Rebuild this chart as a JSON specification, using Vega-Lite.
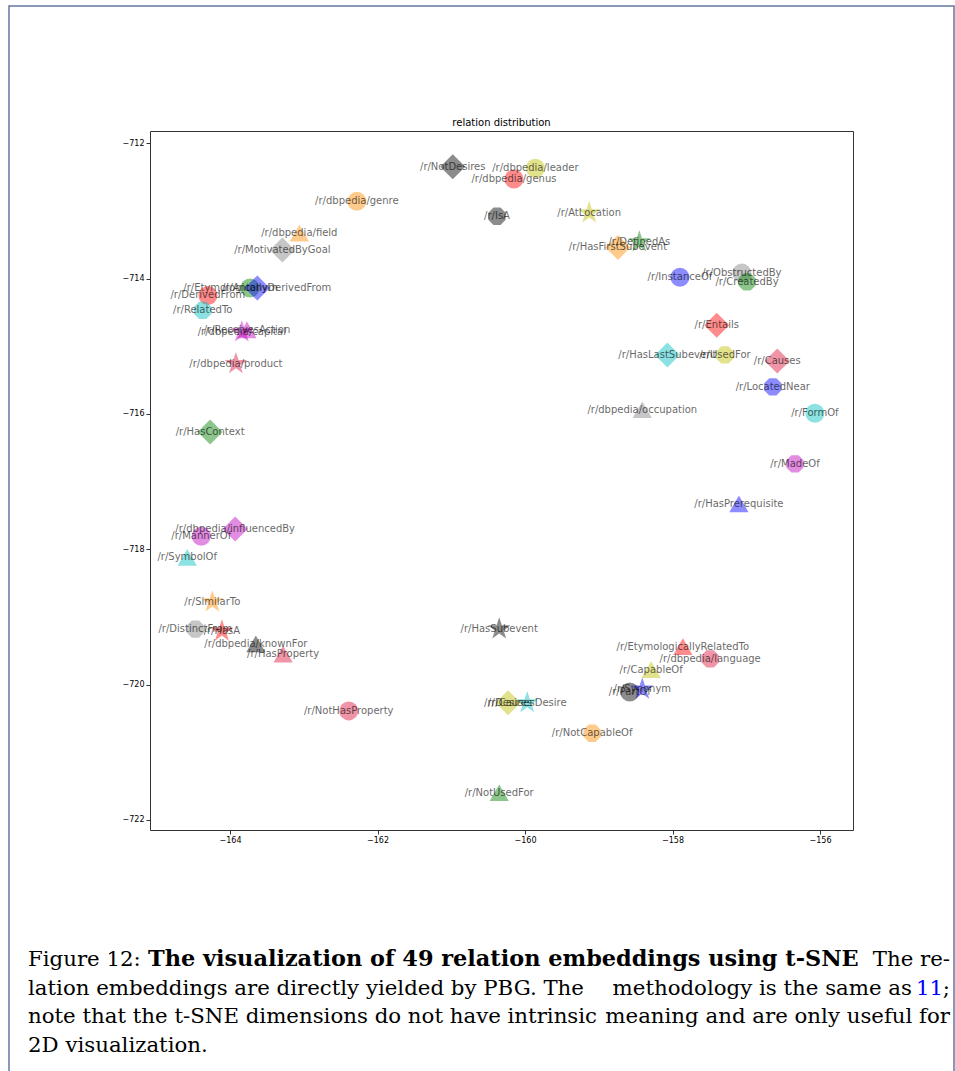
{
  "$schema": "https://vega.github.io/schema/vega-lite/v6.json",
  "width": 703,
  "height": 699,
  "autosize": {"type": "none"},
  "padding": {"left": 150, "top": 131, "right": 102, "bottom": 241},
  "background": "white",
  "config": {
    "font": "DejaVu Sans",
    "view": {"stroke": "#333333", "strokeWidth": 1},
    "axis": {"grid": false, "domain": false, "tickColor": "#333333", "tickSize": 4, "labelFontSize": 8, "labelColor": "#000000", "labelPadding": 2, "labelFont": "DejaVu Sans", "title": null},
    "text": {"font": "DejaVu Serif", "fontSize": 21.3, "fill": "#000000", "baseline": "alphabetic"}
  },
  "datasets": {
    "points": [
      {"name": "/r/NotDesires", "x": -160.98, "y": -712.35, "marker": "diamond", "group": "black"},
      {"name": "/r/dbpedia/leader", "x": -159.86, "y": -712.37, "marker": "circle", "group": "yellow"},
      {"name": "/r/dbpedia/genus", "x": -160.15, "y": -712.53, "marker": "circle", "group": "red"},
      {"name": "/r/dbpedia/genre", "x": -162.28, "y": -712.86, "marker": "circle", "group": "orange"},
      {"name": "/r/IsA", "x": -160.38, "y": -713.08, "marker": "octagon", "group": "black"},
      {"name": "/r/AtLocation", "x": -159.13, "y": -713.03, "marker": "star", "group": "yellow"},
      {"name": "/r/DefinedAs", "x": -158.45, "y": -713.46, "marker": "star", "group": "green"},
      {"name": "/r/HasFirstSubevent", "x": -158.74, "y": -713.54, "marker": "diamond", "group": "orange"},
      {"name": "/r/dbpedia/field", "x": -163.06, "y": -713.33, "marker": "triangle", "group": "orange"},
      {"name": "/r/MotivatedByGoal", "x": -163.29, "y": -713.58, "marker": "diamond", "group": "grey"},
      {"name": "/r/InstanceOf", "x": -157.90, "y": -713.98, "marker": "circle", "group": "blue"},
      {"name": "/r/ObstructedBy", "x": -157.06, "y": -713.92, "marker": "circle", "group": "grey"},
      {"name": "/r/CreatedBy", "x": -156.99, "y": -714.05, "marker": "octagon", "group": "green"},
      {"name": "/r/EtymologicallyDerivedFrom", "x": -163.63, "y": -714.14, "marker": "diamond", "group": "blue"},
      {"name": "/r/Antonym", "x": -163.73, "y": -714.14, "marker": "circle", "group": "green"},
      {"name": "/r/DerivedFrom", "x": -164.30, "y": -714.25, "marker": "circle", "group": "red"},
      {"name": "/r/RelatedTo", "x": -164.37, "y": -714.47, "marker": "octagon", "group": "cyan"},
      {"name": "/r/ReceivesAction", "x": -163.77, "y": -714.76, "marker": "triangle", "group": "magenta"},
      {"name": "/r/dbpedia/capital", "x": -163.84, "y": -714.79, "marker": "star", "group": "magenta"},
      {"name": "/r/Entails", "x": -157.40, "y": -714.69, "marker": "diamond", "group": "red"},
      {"name": "/r/HasLastSubevent", "x": -158.07, "y": -715.13, "marker": "diamond", "group": "cyan"},
      {"name": "/r/UsedFor", "x": -157.29, "y": -715.13, "marker": "octagon", "group": "yellow"},
      {"name": "/r/Causes", "x": -156.58, "y": -715.22, "marker": "diamond", "group": "crimson"},
      {"name": "/r/dbpedia/product", "x": -163.92, "y": -715.26, "marker": "star", "group": "crimson"},
      {"name": "/r/LocatedNear", "x": -156.64, "y": -715.60, "marker": "octagon", "group": "blue"},
      {"name": "/r/dbpedia/occupation", "x": -158.41, "y": -715.94, "marker": "triangle", "group": "grey"},
      {"name": "/r/FormOf", "x": -156.07, "y": -715.99, "marker": "circle", "group": "cyan"},
      {"name": "/r/HasContext", "x": -164.27, "y": -716.27, "marker": "diamond", "group": "green"},
      {"name": "/r/MadeOf", "x": -156.34, "y": -716.74, "marker": "octagon", "group": "magenta"},
      {"name": "/r/HasPrerequisite", "x": -157.10, "y": -717.33, "marker": "triangle", "group": "blue"},
      {"name": "/r/dbpedia/influencedBy", "x": -163.93, "y": -717.70, "marker": "diamond", "group": "magenta"},
      {"name": "/r/MannerOf", "x": -164.39, "y": -717.81, "marker": "circle", "group": "magenta"},
      {"name": "/r/SymbolOf", "x": -164.58, "y": -718.12, "marker": "triangle", "group": "cyan"},
      {"name": "/r/SimilarTo", "x": -164.24, "y": -718.78, "marker": "star", "group": "orange"},
      {"name": "/r/DistinctFrom", "x": -164.47, "y": -719.18, "marker": "octagon", "group": "grey"},
      {"name": "/r/HasA", "x": -164.11, "y": -719.21, "marker": "star", "group": "red"},
      {"name": "/r/dbpedia/knownFor", "x": -163.65, "y": -719.40, "marker": "triangle", "group": "black"},
      {"name": "/r/HasProperty", "x": -163.28, "y": -719.55, "marker": "triangle", "group": "crimson"},
      {"name": "/r/HasSubevent", "x": -160.35, "y": -719.18, "marker": "star", "group": "black"},
      {"name": "/r/EtymologicallyRelatedTo", "x": -157.86, "y": -719.44, "marker": "triangle", "group": "red"},
      {"name": "/r/dbpedia/language", "x": -157.49, "y": -719.62, "marker": "octagon", "group": "crimson"},
      {"name": "/r/CapableOf", "x": -158.29, "y": -719.78, "marker": "triangle", "group": "yellow"},
      {"name": "/r/PartOf", "x": -158.58, "y": -720.11, "marker": "circle", "group": "black"},
      {"name": "/r/Synonym", "x": -158.41, "y": -720.07, "marker": "star", "group": "blue"},
      {"name": "/r/NotHasProperty", "x": -162.39, "y": -720.39, "marker": "circle", "group": "crimson"},
      {"name": "/r/Desires", "x": -160.23, "y": -720.27, "marker": "diamond", "group": "yellow"},
      {"name": "/r/CausesDesire", "x": -159.97, "y": -720.27, "marker": "star", "group": "cyan"},
      {"name": "/r/NotCapableOf", "x": -159.09, "y": -720.72, "marker": "octagon", "group": "orange"},
      {"name": "/r/NotUsedFor", "x": -160.35, "y": -721.60, "marker": "triangle", "group": "green"}
    ],
    "caption": [
      {"part": "title", "text": "relation distribution"},
      {"part": "l1a", "text": "Figure 12:"},
      {"part": "l1b", "text": "The visualization of 49 relation embeddings using t-SNE"},
      {"part": "l1c", "text": "The re-"},
      {"part": "l2a", "text": "lation embeddings are directly yielded by PBG. The"},
      {"part": "l2b", "text": "methodology is the same as"},
      {"part": "l2c", "text": "11"},
      {"part": "l2d", "text": ";"},
      {"part": "l3a", "text": "note that the t-SNE dimensions do not have intrinsic"},
      {"part": "l3b", "text": "meaning and are only useful for"},
      {"part": "l4a", "text": "2D visualization."}
    ]
  },
  "layer": [
    {
      "data": {"values": [{"frame": "page"}]},
      "mark": {"type": "rect", "fill": null, "stroke": "#6478a0", "strokeWidth": 1.5},
      "encoding": {"x": {"value": -141}, "x2": {"value": 804}, "y": {"value": -125}, "y2": {"value": 945}}
    },
    {
      "data": {"name": "points"},
      "transform": [{"filter": "datum.marker === 'circle'"}],
      "mark": {"type": "point", "shape": "circle", "size": 361, "filled": true, "opacity": 0.45, "strokeWidth": 0},
      "encoding": {
        "x": {"field": "x", "type": "quantitative", "scale": {"domain": [-165.085, -155.553], "nice": false, "zero": false}, "axis": {"values": [-164, -162, -160, -158, -156], "format": "d"}},
        "y": {"field": "y", "type": "quantitative", "scale": {"domain": [-722.15, -711.82], "nice": false, "zero": false}, "axis": {"values": [-722, -720, -718, -716, -714, -712], "format": "d"}},
        "color": {"field": "group", "type": "nominal", "legend": null, "scale": {"domain": ["red", "crimson", "orange", "yellow", "green", "blue", "cyan", "magenta", "black", "grey"], "range": ["#ff0000", "#dc143c", "#ff8c00", "#bfbf00", "#008000", "#0000ff", "#00bfbf", "#bf00bf", "#000000", "#808080"]}}
      }
    },
    {
      "data": {"name": "points"},
      "transform": [{"filter": "datum.marker === 'diamond'"}],
      "mark": {"type": "point", "shape": "diamond", "size": 625, "filled": true, "opacity": 0.45, "strokeWidth": 0},
      "encoding": {
        "x": {"field": "x", "type": "quantitative"},
        "y": {"field": "y", "type": "quantitative"},
        "color": {"field": "group", "type": "nominal", "legend": null}
      }
    },
    {
      "data": {"name": "points"},
      "transform": [{"filter": "datum.marker === 'triangle'"}],
      "mark": {"type": "point", "shape": "triangle-up", "size": 370, "filled": true, "opacity": 0.45, "strokeWidth": 0},
      "encoding": {
        "x": {"field": "x", "type": "quantitative"},
        "y": {"field": "y", "type": "quantitative"},
        "color": {"field": "group", "type": "nominal", "legend": null}
      }
    },
    {
      "data": {"name": "points"},
      "transform": [{"filter": "datum.marker === 'star'"}],
      "mark": {"type": "point", "shape": "M0,-1L0.225,-0.309L0.951,-0.309L0.363,0.118L0.588,0.809L0,0.382L-0.588,0.809L-0.363,0.118L-0.951,-0.309L-0.225,-0.309Z", "size": 560, "filled": true, "opacity": 0.45, "strokeWidth": 0},
      "encoding": {
        "x": {"field": "x", "type": "quantitative"},
        "y": {"field": "y", "type": "quantitative"},
        "color": {"field": "group", "type": "nominal", "legend": null}
      }
    },
    {
      "data": {"name": "points"},
      "transform": [{"filter": "datum.marker === 'octagon'"}],
      "mark": {"type": "point", "shape": "M-0.383,-0.924L0.383,-0.924L0.924,-0.383L0.924,0.383L0.383,0.924L-0.383,0.924L-0.924,0.383L-0.924,-0.383Z", "size": 350, "filled": true, "opacity": 0.45, "strokeWidth": 0},
      "encoding": {
        "x": {"field": "x", "type": "quantitative"},
        "y": {"field": "y", "type": "quantitative"},
        "color": {"field": "group", "type": "nominal", "legend": null}
      }
    },
    {
      "data": {"name": "points"},
      "mark": {"type": "text", "fontSize": 10, "font": "DejaVu Sans", "fill": "#000000", "opacity": 0.6, "align": "center", "baseline": "middle"},
      "encoding": {
        "x": {"field": "x", "type": "quantitative"},
        "y": {"field": "y", "type": "quantitative"},
        "text": {"field": "name", "type": "nominal"}
      }
    },
    {
      "data": {"name": "caption"},
      "transform": [{"filter": "datum.part === 'title'"}],
      "mark": {"type": "text", "font": "DejaVu Sans", "fontSize": 10, "align": "center"},
      "encoding": {"x": {"value": 351.5}, "y": {"value": -5}, "text": {"field": "text"}}
    },
    {
      "data": {"name": "caption"},
      "transform": [{"filter": "datum.part === 'l1a'"}],
      "mark": {"type": "text", "align": "left"},
      "encoding": {"x": {"value": -122}, "y": {"value": 835}, "text": {"field": "text"}}
    },
    {
      "data": {"name": "caption"},
      "transform": [{"filter": "datum.part === 'l1b'"}],
      "mark": {"type": "text", "fontWeight": "bold", "fontSize": 22.4, "align": "left"},
      "encoding": {"x": {"value": -2}, "y": {"value": 835}, "text": {"field": "text"}}
    },
    {
      "data": {"name": "caption"},
      "transform": [{"filter": "datum.part === 'l1c'"}],
      "mark": {"type": "text", "align": "right"},
      "encoding": {"x": {"value": 800}, "y": {"value": 835}, "text": {"field": "text"}}
    },
    {
      "data": {"name": "caption"},
      "transform": [{"filter": "datum.part === 'l2a'"}],
      "mark": {"type": "text", "align": "left"},
      "encoding": {"x": {"value": -122}, "y": {"value": 864}, "text": {"field": "text"}}
    },
    {
      "data": {"name": "caption"},
      "transform": [{"filter": "datum.part === 'l2b'"}],
      "mark": {"type": "text", "align": "right"},
      "encoding": {"x": {"value": 762}, "y": {"value": 864}, "text": {"field": "text"}}
    },
    {
      "data": {"name": "caption"},
      "transform": [{"filter": "datum.part === 'l2c'"}],
      "mark": {"type": "text", "fill": "#0000ff", "align": "right"},
      "encoding": {"x": {"value": 793}, "y": {"value": 864}, "text": {"field": "text"}}
    },
    {
      "data": {"name": "caption"},
      "transform": [{"filter": "datum.part === 'l2d'"}],
      "mark": {"type": "text", "align": "right"},
      "encoding": {"x": {"value": 800}, "y": {"value": 864}, "text": {"field": "text"}}
    },
    {
      "data": {"name": "caption"},
      "transform": [{"filter": "datum.part === 'l3a'"}],
      "mark": {"type": "text", "align": "left"},
      "encoding": {"x": {"value": -122}, "y": {"value": 892}, "text": {"field": "text"}}
    },
    {
      "data": {"name": "caption"},
      "transform": [{"filter": "datum.part === 'l3b'"}],
      "mark": {"type": "text", "align": "right"},
      "encoding": {"x": {"value": 800}, "y": {"value": 892}, "text": {"field": "text"}}
    },
    {
      "data": {"name": "caption"},
      "transform": [{"filter": "datum.part === 'l4a'"}],
      "mark": {"type": "text", "align": "left"},
      "encoding": {"x": {"value": -122}, "y": {"value": 921}, "text": {"field": "text"}}
    }
  ]
}
